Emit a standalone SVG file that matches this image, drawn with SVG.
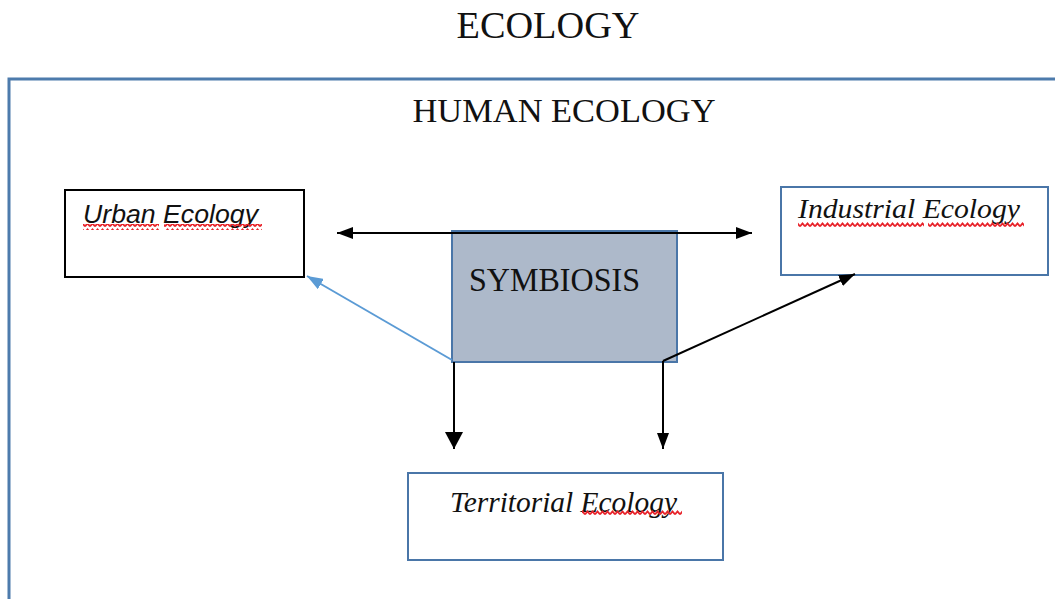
<svg xmlns="http://www.w3.org/2000/svg" width="1055" height="599" viewBox="0 0 1055 599">
  <style>
    .serif { font-family: "Liberation Serif", "DejaVu Serif", serif; fill: #111; }
    .it { font-style: italic; }
    .sans { font-family: "Liberation Sans", Arial, sans-serif; fill: #111; }
    .box { fill: #ffffff; stroke-width: 2; }
    .frame { fill: none; stroke: #4d7bac; stroke-width: 3; }
    .blk { stroke: #000; fill: none; stroke-width: 2; }
    .blue { stroke: #5b9bd5; fill: none; stroke-width: 2; }
  </style>
  <defs>
    <marker id="headBlk" markerUnits="userSpaceOnUse" viewBox="0 0 16 12" markerWidth="16" markerHeight="12" refX="16" refY="6" orient="auto-start-reverse">
      <path d="M0,0 L16,6 L0,12 z" fill="#000"/>
    </marker>
    <marker id="headBlue" markerUnits="userSpaceOnUse" viewBox="0 0 16 12" markerWidth="16" markerHeight="12" refX="16" refY="6" orient="auto">
      <path d="M0,0 L16,6 L0,12 z" fill="#5b9bd5"/>
    </marker>
    <marker id="headBig" markerUnits="userSpaceOnUse" viewBox="0 0 17 18" markerWidth="17" markerHeight="18" refX="17" refY="9" orient="auto">
      <path d="M0,0 L17,9 L0,18 z" fill="#000"/>
    </marker>
    <!-- red squiggle used as a spelling underline -->
    <pattern id="wave" width="5" height="6" patternUnits="userSpaceOnUse">
      <path d="M0,4.5 L2.5,1.5 L5,4.5" fill="none" stroke="#e8232a" stroke-width="1.8"/>
    </pattern>
  </defs>

  <rect width="1055" height="599" fill="#ffffff"/>

  <!-- headings -->
  <text class="serif" x="548" y="38" font-size="38" text-anchor="middle" textLength="183" lengthAdjust="spacingAndGlyphs">ECOLOGY</text>
  <rect class="frame" x="9" y="79" width="1100" height="600"/>
  <text class="serif" x="564" y="122" font-size="34" text-anchor="middle" textLength="303" lengthAdjust="spacingAndGlyphs">HUMAN ECOLOGY</text>

  <!-- nodes -->
  <g id="symbiosis">
    <rect x="452" y="231" width="225" height="131" fill="#adb9ca" stroke="#4a76a8" stroke-width="2"/>
    <text class="serif" x="469" y="291" font-size="33" textLength="171" lengthAdjust="spacingAndGlyphs">SYMBIOSIS</text>
  </g>

  <g id="urban-ecology">
    <rect class="box" x="65" y="190" width="239" height="87" stroke="#000"/>
    <text class="sans it" x="83" y="223" font-size="26" textLength="175" lengthAdjust="spacingAndGlyphs">Urban Ecology</text>
    <rect x="83" y="224" width="76" height="6" fill="url(#wave)"/>
    <rect x="164" y="224" width="98" height="6" fill="url(#wave)"/>
  </g>

  <g id="industrial-ecology">
    <rect class="box" x="781" y="187" width="267" height="88" stroke="#4a76a8"/>
    <text class="serif it" x="798" y="218" font-size="28" textLength="222" lengthAdjust="spacingAndGlyphs">Industrial Ecology</text>
    <rect x="798" y="222" width="126" height="6" fill="url(#wave)"/>
    <rect x="928" y="222" width="96" height="6" fill="url(#wave)"/>
  </g>

  <g id="territorial-ecology">
    <rect class="box" x="408" y="473" width="315" height="87" stroke="#4a76a8"/>
    <text class="serif it" x="450" y="512" font-size="30" textLength="227" lengthAdjust="spacingAndGlyphs">Territorial Ecology</text>
    <rect x="582" y="510" width="100" height="6" fill="url(#wave)"/>
  </g>

  <!-- connectors -->
  <g id="connectors">
    <line class="blk" x1="337" y1="233" x2="752" y2="233" marker-start="url(#headBlk)" marker-end="url(#headBlk)"/>
    <line class="blue" x1="452" y1="360" x2="307" y2="276" marker-end="url(#headBlue)"/>
    <line class="blk" x1="663" y1="361" x2="855" y2="274" marker-end="url(#headBlk)"/>
    <line class="blk" x1="454" y1="362" x2="454" y2="449" stroke-width="4" marker-end="url(#headBig)"/>
    <line class="blk" x1="663" y1="361" x2="663" y2="449" marker-end="url(#headBlk)"/>
  </g>
</svg>
